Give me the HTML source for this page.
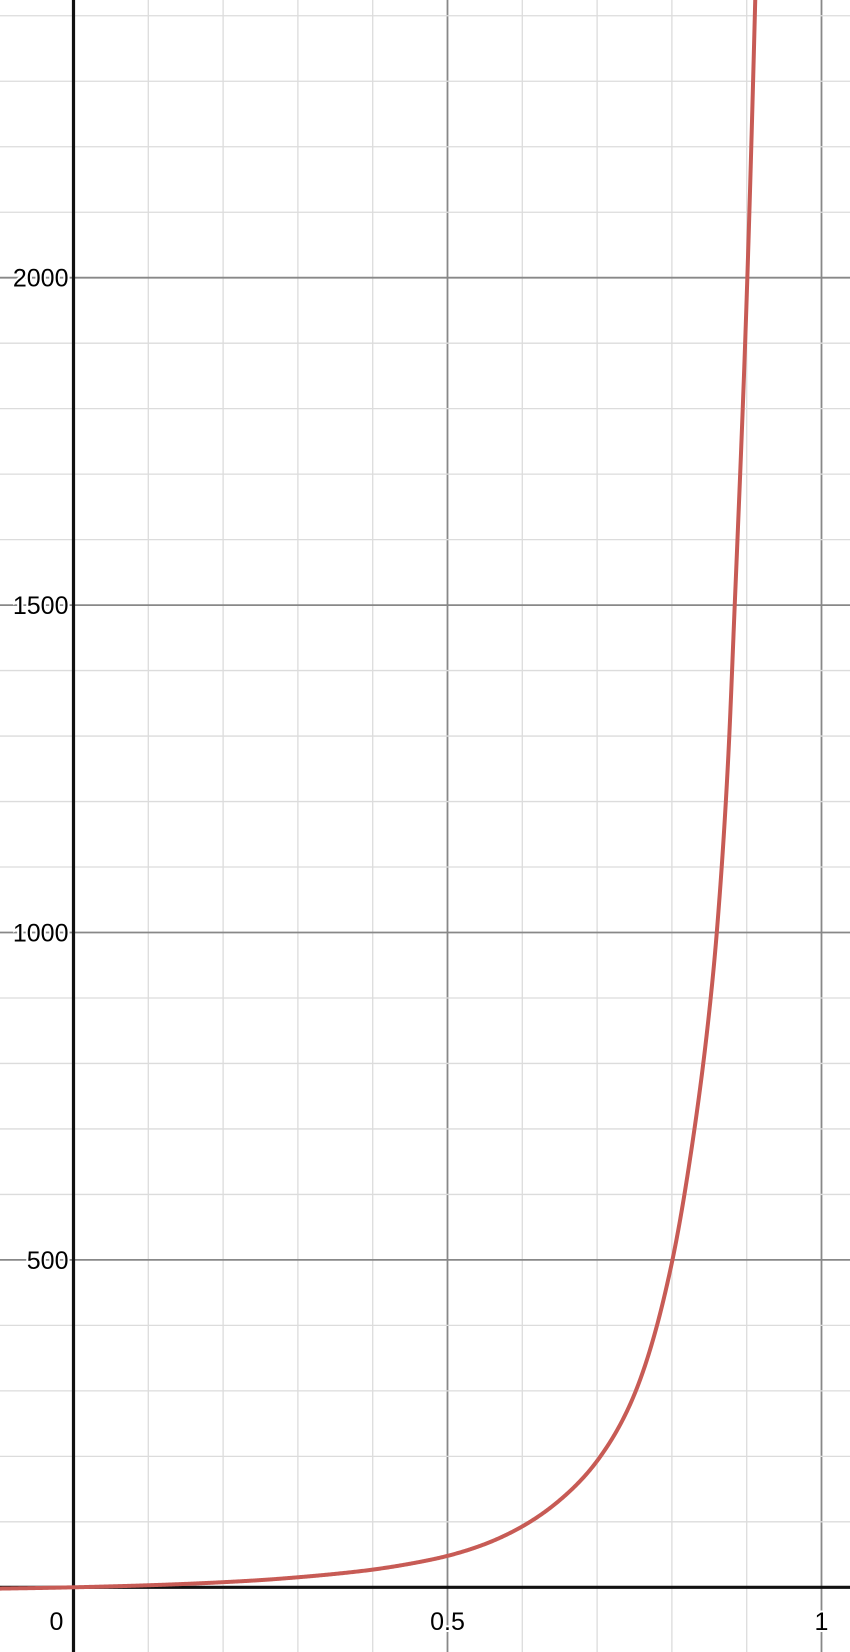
<!DOCTYPE html>
<html><head><meta charset="utf-8"><style>
html,body{margin:0;padding:0;background:#fff}
svg{display:block}
text{font-family:"Liberation Sans",Arial,sans-serif;font-size:25px;fill:#000}
</style></head><body>
<svg id="chart" width="850" height="1652" viewBox="0 0 850 1652" xmlns="http://www.w3.org/2000/svg">
<g id="grid"></g>
<g id="axes"></g>
<g id="labels"></g>
<path id="curve" fill="none" stroke="#c75b55" stroke-width="4" stroke-linejoin="round"/>
</svg>
<script>
const xTickValues=[0.5,1];
const xTickLabels=["0.5","1"];
const yTickValues=[500,1000,1500,2000];
const yTickLabels=["500","1000","1500","2000"];
const curveX=[-0.1,0,0.05,0.1,0.15,0.2,0.25,0.3,0.35,0.4,0.45,0.5,0.55,0.6,0.65,0.7,0.75,0.8,0.825,0.85,0.86,0.875,0.884,0.9,0.912];
const curveY=[-2,0,1.4,3.1,5.2,7.8,11,15.3,20.5,27,36,48,66,93,133,193,295,496,660,880,1000,1260,1500,1970,2450];

const X0=73.5, XS=748, Y0=1587.3, YS=327.4/500;
const sx=v=>X0+v*XS, sy=v=>Y0-v*YS;
const NS="http://www.w3.org/2000/svg";
function mk(tag,attrs,parent){const e=document.createElementNS(NS,tag);for(const k in attrs)e.setAttribute(k,attrs[k]);parent.appendChild(e);return e;}
const grid=document.getElementById('grid'), axes=document.getElementById('axes'), labels=document.getElementById('labels');
for(let i=-1;i<=11;i++){const x=sx(i/10);const major=i%5===0;
 const l=mk('line',{x1:x,x2:x,y1:0,y2:1652,stroke:major?'#888':'#dcdcdc','stroke-width':major?1.8:1.3},grid);
 
 }
for(let i=-1;i<=25;i++){const y=sy(i*100);const major=i%5===0;
 const l=mk('line',{x1:0,x2:850,y1:y,y2:y,stroke:major?'#888':'#dcdcdc','stroke-width':major?1.8:1.3},grid);
 
 }
const xa=mk('line',{x1:0,x2:850,y1:Y0,y2:Y0,stroke:'#111','stroke-width':3.2},axes);


const ya=mk('line',{x1:X0,x2:X0,y1:0,y2:1652,stroke:'#111','stroke-width':3.2},axes);


function txt(s,x,y,anchor,name){const t=mk('text',{x:x,y:y,'text-anchor':anchor,stroke:'#fff','stroke-width':4,'paint-order':'stroke'},labels);t.textContent=s;
 
 
 return t;}
txt("0",X0-17,1630,'middle','x-tick-label-0');
xTickValues.forEach((v,i)=>txt(xTickLabels[i],sx(v),1630,'middle','x-tick-label'));
yTickValues.forEach((v,i)=>txt(yTickLabels[i],X0-5,sy(v)+9,'end','y-tick-label'));
// monotone cubic interpolation in log space for a smooth curve
const C=5;
const U=curveY.map(v=>Math.log(v+C));
const n=curveX.length, dl=[], m=new Array(n);
for(let i=0;i<n-1;i++)dl.push((U[i+1]-U[i])/(curveX[i+1]-curveX[i]));
m[0]=dl[0];m[n-1]=dl[n-2];
for(let i=1;i<n-1;i++){m[i]=dl[i-1]*dl[i]<=0?0:(dl[i-1]+dl[i])/2;}
for(let i=0;i<n-1;i++){if(dl[i]===0){m[i]=m[i+1]=0;continue;}const a=m[i]/dl[i],b=m[i+1]/dl[i],s=a*a+b*b;if(s>9){const t=3/Math.sqrt(s);m[i]=t*a*dl[i];m[i+1]=t*b*dl[i];}}
let d='';
for(let i=0;i<n-1;i++){const h=curveX[i+1]-curveX[i];
 for(let k=0;k<=40;k++){if(i>0&&k===0)continue;const t=k/40,t2=t*t,t3=t2*t;
  const u=(2*t3-3*t2+1)*U[i]+(t3-2*t2+t)*h*m[i]+(-2*t3+3*t2)*U[i+1]+(t3-t2)*h*m[i+1];
  const x=curveX[i]+t*h, y=Math.exp(u)-C;
  d+=(d?' L':'M')+sx(x).toFixed(2)+','+sy(y).toFixed(2);}}
document.getElementById('curve').setAttribute('d',d);
</script>
</body></html>
